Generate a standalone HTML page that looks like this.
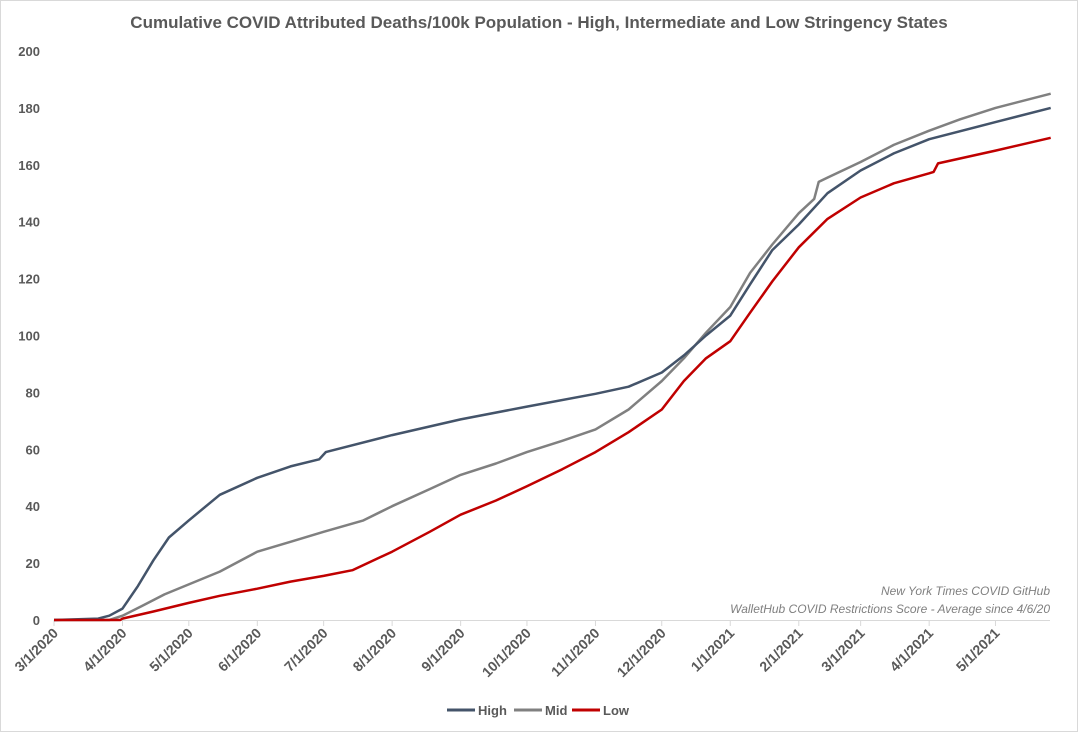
<!DOCTYPE html>
<html><head><meta charset="utf-8"><style>
body{margin:0;background:#fff}
svg{font-family:"Liberation Sans",sans-serif}
</style></head><body>
<svg id="c" width="1078" height="732" xmlns="http://www.w3.org/2000/svg">
<rect x="0.5" y="0.5" width="1077" height="731" fill="#fff" stroke="#d9d9d9"/>
<text x="539" y="28" text-anchor="middle" font-size="17" font-weight="bold" fill="#595959">Cumulative COVID Attributed Deaths/100k Population - High, Intermediate and Low Stringency States</text>
<g id="yax"></g>
<g id="xax"></g>
<g id="series"></g>
<text x="1050" y="595" text-anchor="end" font-size="12" font-style="italic" fill="#7f7f7f">New York Times COVID GitHub</text>
<text x="1050" y="613" text-anchor="end" font-size="12" font-style="italic" fill="#7f7f7f">WalletHub COVID Restrictions Score - Average since 4/6/20</text>
<g id="legend"></g>
</svg>
<script>
const yTicks=[0,20,40,60,80,100,120,140,160,180,200];
const xTickLabels=["3/1/2020","4/1/2020","5/1/2020","6/1/2020","7/1/2020","8/1/2020","9/1/2020","10/1/2020","11/1/2020","12/1/2020","1/1/2021","2/1/2021","3/1/2021","4/1/2021","5/1/2021"];
const xTickDays=[0,31,61,92,122,153,184,214,245,275,306,337,365,396,426];
const highDays=[0,20,25,31,38,45,52,61,75,92,107,120,123,153,184,214,245,260,275,285,295,306,315,325,337,350,365,380,396,426,451];
const highVals=[0,0.5,1.5,4,12,21,29,35,44,50,54,56.5,59,65,70.5,75,79.5,82,87,93,100,107,118,130,139,150,158,164,169,175,180];
const midDays=[0,25,31,40,50,61,75,92,107,122,140,153,170,184,200,214,230,245,260,275,285,295,306,315,325,337,344,346,350,365,380,396,410,426,451];
const midVals=[0,0,1.5,5,9,12.5,17,24,27.5,31,35,40,46,51,55,59,63,67,74,84,92,101,110,122,132,143,148,154,155.5,161,167,172,176,180,185];
const lowDays=[0,30,31,45,61,75,92,107,122,135,153,170,184,200,214,230,245,260,275,285,295,306,315,325,337,350,365,380,396,398,400,426,451];
const lowVals=[0,0,0.5,3,6,8.5,11,13.5,15.5,17.5,24,31,37,42,47,53,59,66,74,84,92,98,108,119,131,141,148.5,153.5,157,157.5,160.5,165,169.5];
const NS="http://www.w3.org/2000/svg";
const X=d=>54+d*2.21, Y=v=>620-v*2.845;
function mk(t,a,p){const e=document.createElementNS(NS,t);for(const k in a)e.setAttribute(k,a[k]);p.appendChild(e);return e;}
const yax=document.getElementById('yax'),xax=document.getElementById('xax');
yTicks.forEach(v=>{const t=mk('text',{x:40,y:Y(v)+5,'text-anchor':'end','font-size':13,'font-weight':'bold',fill:'#595959'},yax);


t.textContent=v;});
const al=mk('line',{x1:54,x2:1050,y1:620.5,y2:620.5,stroke:'#d9d9d9','stroke-width':1},xax);


xTickDays.forEach((d,i)=>{const x=X(d);
const tk=mk('line',{x1:x,x2:x,y1:620,y2:626,stroke:'#d9d9d9'},xax);


const t=mk('text',{x:0,y:0,'text-anchor':'end','font-size':14,'font-weight':'bold',fill:'#595959',transform:`translate(${x+5},${634}) rotate(-45)`},xax);


t.textContent=xTickLabels[i];});
const sg=document.getElementById('series');
function line(days,vals,col,name){const p=mk('polyline',{points:days.map((d,i)=>X(d).toFixed(1)+','+Y(vals[i]).toFixed(1)).join(' '),fill:'none',stroke:col,'stroke-width':2.5,'stroke-linejoin':'round'},sg);

}
line(midDays,midVals,'#808080','line-mid');
line(highDays,highVals,'#44546a','line-high');
line(lowDays,lowVals,'#c00000','line-low');
const lg=document.getElementById('legend');
[['High','#44546a',447],['Mid','#808080',514],['Low','#c00000',572]].forEach(([n,c,x])=>{
const g=mk('g',{},lg);


mk('line',{x1:x,x2:x+28,y1:710,y2:710,stroke:c,'stroke-width':3},g);
const t=mk('text',{x:x+31,y:715,'font-size':13,'font-weight':'bold',fill:'#595959'},g);t.textContent=n;});
</script>
</body></html>
